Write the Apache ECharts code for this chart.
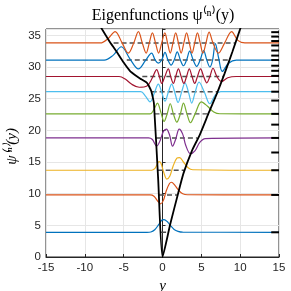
<!DOCTYPE html>
<html><head><meta charset="utf-8">
<script src="https://cdn.jsdelivr.net/npm/echarts@6/dist/echarts.min.js"></script>
<style>html,body{margin:0;padding:0;background:#fff}#c{width:291px;height:291px}</style>
</head><body><div id="c"></div>
<script>
// axis ticks
const xTicks = [-15, -10, -5, 0, 5, 10, 15];
const yTicks = [0, 5, 10, 15, 20, 25, 30, 35];

// potential V(y)
const potential = [[-8.0,36.4],[-6.9,34.2],[-5.9,32.4],[-5.0,30.7],[-4.2,29.4],[-3.5,28.7],[-2.9,28.2],[-2.5,27.9],[-2.0,27.5],[-1.75,27.0],[-1.45,26.2],[-1.25,25.2],[-1.1,24.2],[-0.55,12.1],[0,0],[1,5.2],[2,10.0],[2.7,13.2],[3.8,16.8],[4.8,19.3],[6,22.9],[7,25.8],[8,29.0],[9,32.4],[10,36.0],[10.2,36.7]];

// energy levels drawn (dashed) with their turning points
const levelE     = [3.9, 9.8, 13.7, 18.8, 22.6, 26.1, 28.5, 31.1, 33.8];
const levelLeft  = [-0.18, -0.45, -0.62, -0.85, -1.03, -1.4, -2.6, -4.6, -6.3];
const levelRight = [0.75, 1.9, 2.8, 4.5, 5.9, 7.1, 7.9, 8.6, 9.4];

// full spectrum marks on right edge
const spectrum = [3.9, 9.8, 13.7, 16.5, 18.8, 20.9, 22.6, 24.7, 26.1, 27.6, 28.6, 29.4, 30.2, 31.1, 31.8, 32.6, 33.4, 34.1, 34.8, 35.5];

// eigenfunctions (offset by their energy)
const psi0 = [[-15,3.9],[-2,3.9],[-1.5,3.95],[-1,4.3],[-0.5,5.1],[-0.1,5.8],[0.2,5.9],[0.6,5.6],[1,5.0],[1.5,4.35],[2,4.05],[2.6,3.92],[15,3.9]];
const psi1 = [[-15,9.8],[-1.6,9.8],[-1.1,9.6],[-0.6,8.8],[-0.25,8.4],[0.1,8.9],[0.5,10.5],[0.9,11.6],[1.15,11.8],[1.6,11.3],[2.1,10.5],[2.6,10.0],[3.2,9.83],[15,9.8]];
const psi2 = [[-15,13.7],[-1.4,13.7],[-1.0,13.95],[-0.7,14.6],[-0.45,15.05],[-0.2,14.8],[0.15,13.4],[0.55,12.3],[0.95,12.8],[1.35,14.3],[1.85,15.6],[2.2,15.7],[2.7,15.0],[3.3,14.1],[3.9,13.78],[15,13.7]];
const psi4 = [[-15,18.8],[-1.8,18.8],[-1.3,18.55],[-0.75,17.5],[-0.3,18.4],[0.1,19.8],[0.5,20.2],[0.9,19.3],[1.3,17.5],[1.7,18.6],[2.15,20.2],[2.6,19.4],[3.0,17.6],[3.6,16.3],[4.2,16.8],[4.8,18.1],[5.5,18.7],[15,18.8]];
const psi6 = [[-15,22.6],[-1.6,22.6],[-1.1,23.3],[-0.65,24.3],[-0.2,22.8],[0.2,21.4],[0.6,22.6],[1.0,24.2],[1.4,22.6],[1.85,21.3],[2.3,22.6],[2.7,24.3],[3.15,22.6],[3.6,21.2],[4.2,22.6],[5.0,24.5],[5.8,23.8],[6.6,22.9],[7.4,22.62],[15,22.6]];
const psi8 = [[-15,26.1],[-2.8,26.1],[-2.2,25.4],[-1.6,24.5],[-1.05,25.9],[-0.54,27.3],[-0.1,26.0],[0.32,24.6],[0.75,26.0],[1.18,27.3],[1.6,25.9],[2.0,24.4],[2.45,26.0],[2.9,27.5],[3.35,26.0],[3.76,24.3],[4.2,26.0],[4.7,27.6],[5.4,26.0],[6.1,24.2],[6.8,25.6],[7.5,26.1],[15,26.1]];
const psi10 = [[-15,28.5],[-5.6,28.5],[-4.8,28.1],[-4.0,27.3],[-3.0,26.8],[-2.0,27.0],[-1.3,28.3],[-0.75,29.6],[-0.4,28.5],[-0.1,27.4],[0.3,28.5],[0.75,29.7],[1.05,28.5],[1.4,27.4],[1.7,28.5],[2.05,29.7],[2.4,28.5],[2.75,27.4],[3.1,28.5],[3.45,29.7],[3.8,28.5],[4.15,27.4],[4.5,28.5],[4.9,29.7],[5.3,28.5],[5.7,27.5],[6.1,28.5],[6.5,29.8],[7.0,28.5],[7.6,27.7],[8.4,28.3],[9.5,28.5],[15,28.5]];
const psi12 = [[-15,31.1],[-7.5,31.1],[-6.4,31.8],[-5.3,33.2],[-4.2,31.3],[-3.1,29.7],[-2.2,31.0],[-1.4,32.2],[-0.95,31.1],[-0.54,30.6],[-0.1,31.1],[0.32,32.3],[0.7,31.1],[1.1,30.3],[1.5,31.1],[1.9,32.4],[2.3,31.1],[2.7,30.2],[3.1,31.1],[3.5,32.5],[3.95,31.1],[4.4,30.1],[4.85,31.1],[5.3,32.6],[5.7,31.1],[6.1,30.0],[6.45,31.1],[6.8,33.7],[7.25,31.3],[7.7,29.3],[8.5,30.6],[9.5,31.1],[15,31.1]];
const psi14 = [[-15,33.8],[-8.0,33.8],[-7.0,34.5],[-6.1,35.6],[-5.2,33.8],[-4.4,32.2],[-3.7,33.8],[-3.1,35.6],[-2.6,33.8],[-2.1,32.2],[-1.7,33.8],[-1.3,35.4],[-0.9,33.8],[-0.5,32.2],[-0.1,33.8],[0.3,35.4],[0.65,33.8],[1.0,32.2],[1.35,33.8],[1.7,35.4],[2.05,33.8],[2.4,32.2],[2.75,33.8],[3.1,35.4],[3.45,33.8],[3.8,32.2],[4.15,33.8],[4.5,35.4],[4.85,33.8],[5.2,32.2],[5.6,33.8],[6.0,35.5],[6.5,33.8],[7.2,32.2],[8.0,33.8],[8.9,35.6],[9.7,34.2],[10.6,33.8],[15,33.8]];

const psiList = [psi0, psi1, psi2, psi4, psi6, psi8, psi10, psi12, psi14];
const colors = ['#0072BD','#D95319','#EDB120','#7E2F8E','#77AC30','#4DBEEE','#A2142F','#0072BD','#D95319'];

const series = [];
levelE.forEach((E, i) => {
  series.push({type:'line', data:[[levelLeft[i], E],[levelRight[i], E]], showSymbol:false, silent:true,
    lineStyle:{color:'#4d4d4d', width:1.4, type:[5,3]}, z:2});
});
psiList.forEach((d, i) => {
  series.push({type:'line', data:d, smooth:0.35, showSymbol:false, silent:true,
    lineStyle:{color:colors[i], width:1.2}, z:3});
});
series.push({type:'line', data:potential, smooth:0.2, showSymbol:false, silent:true,
  lineStyle:{color:'#000', width:1.8}, z:4});
series.push({type:'custom', data:spectrum.map(e => [14.5, e]), silent:true, z:5, clip:false,
  renderItem:(params, api) => {
    const a = api.coord([14.0, api.value(1)]);
    const b = api.coord([15, api.value(1)]);
    return {type:'line', shape:{x1:a[0], y1:a[1], x2:b[0], y2:b[1]}, style:{stroke:'#000', lineWidth:2}};
  }});

const chart = echarts.init(document.getElementById('c'));
chart.setOption({
  animation:false,
  backgroundColor:'#fff',
  title:{text:'Eigenfunctions ψ⁽ⁿ⁾(y)', left:158, top:3, textAlign:'center',
    textStyle:{fontFamily:'Liberation Serif', fontWeight:'normal', fontSize:16, color:'#000'}},
  graphic:[{type:'text', left:5, top:128, rotation:Math.PI/2,
    style:{text:'ψ⁽ⁿ⁾(y)', fontFamily:'Liberation Serif', fontStyle:'italic', fontSize:15, fill:'#000'}}],
  grid:{left:46, right:12, top:29, bottom:34, show:true, borderColor:'#262626', borderWidth:1, backgroundColor:'#fff', outerBoundsMode:'none'},
  xAxis:{type:'value', min:xTicks[0], max:xTicks[xTicks.length-1], interval:5,
    name:'y', nameLocation:'middle', nameGap:18,
    nameTextStyle:{fontFamily:'Liberation Serif', fontStyle:'italic', fontSize:15, color:'#000'},
    axisLine:{show:true, lineStyle:{color:'#262626'}}, axisTick:{inside:true, length:3, lineStyle:{color:'#262626'}},
    axisLabel:{fontFamily:'Liberation Sans', fontSize:11.5, color:'#262626', margin:5},
    splitLine:{show:true, lineStyle:{color:'#e6e6e6', width:1}}},
  yAxis:{type:'value', min:yTicks[0], max:36, interval:5,
    axisLine:{show:true, lineStyle:{color:'#262626'}}, axisTick:{inside:true, length:3, lineStyle:{color:'#262626'}},
    axisLabel:{fontFamily:'Liberation Sans', fontSize:11.5, color:'#262626', margin:5,
      formatter:(v) => yTicks.includes(v) ? String(v) : ''},
    splitLine:{show:true, lineStyle:{color:'#e6e6e6', width:1}}},
  series:series
});
</script></body></html>
